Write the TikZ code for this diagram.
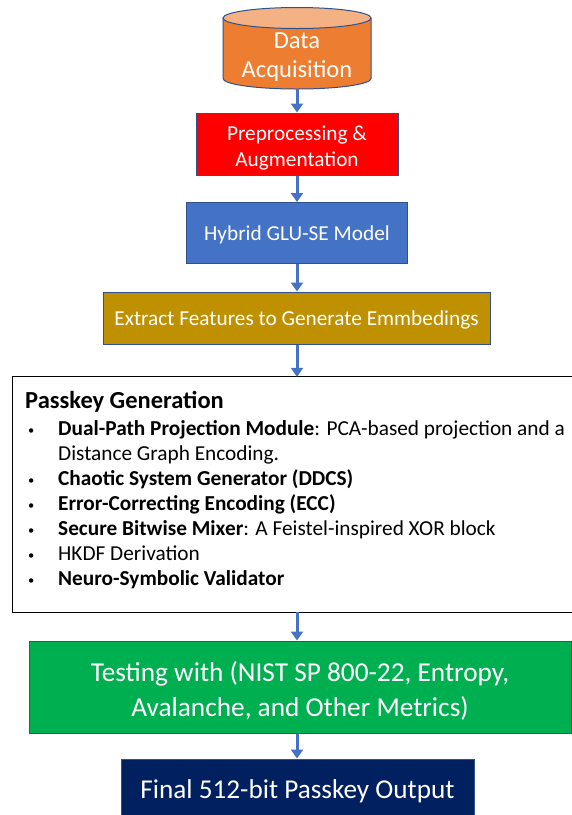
\documentclass[tikz,border=0pt]{standalone}
\usepackage{fontspec}
\setmainfont{Carlito}
\usetikzlibrary{arrows.meta}
\definecolor{bord}{HTML}{2F528F}
\definecolor{cylbody}{HTML}{ED7D31}
\definecolor{cyltop}{HTML}{F4B183}
\definecolor{redbox}{HTML}{FF0000}
\definecolor{bluebox}{HTML}{4472C4}
\definecolor{goldbox}{HTML}{BF9000}
\definecolor{greenbox}{HTML}{00B050}
\definecolor{navybox}{HTML}{002060}
\definecolor{arrowc}{HTML}{4472C4}
\begin{document}
\begin{tikzpicture}[x=1pt,y=-1pt,
  flowbox/.style={draw=bord, line width=1pt, text=white, align=center, inner sep=0pt},
  boxtext/.style={text=white, align=center, inner sep=0pt},
  flowarrow/.style={draw=arrowc, line width=3pt, -{Triangle[width=12pt,length=9pt]}},
  itemtext/.style={anchor=base west, inner sep=0pt, font=\fontsize{21.3}{25}\selectfont},
  bulletmark/.style={anchor=base west, inner sep=0pt, font=\fontsize{12.5}{25}\selectfont}]
\useasboundingbox (0,0) rectangle (572,815);
\fill[white] (0,0) rectangle (572,815);

% cylinder
\filldraw[fill=cylbody, draw=bord, line width=1pt] (223,18) -- (223,78.5)
  arc[start angle=180, end angle=360, x radius=74pt, y radius=10.5pt] -- (371,18);
\filldraw[fill=cyltop, draw=bord, line width=1pt] (297,18) ellipse[x radius=74pt, y radius=10.5pt];
\node[boxtext, font=\fontsize{24.5}{29}\selectfont] (data) at (297,57) {Data\\Acquisition};
\coordinate (dbot) at (297,89);

\node[flowbox, fill=redbox, minimum width=202pt, minimum height=62pt] (prep) at (297,144) {};
\node[boxtext, font=\fontsize{21.3}{26}\selectfont] (preptext) at (297,147.5) {Preprocessing \&\\Augmentation};
\node[flowbox, fill=bluebox, minimum width=221pt, minimum height=61pt] (hyb) at (297,233) {};
\node[boxtext, anchor=base, font=\fontsize{21.3}{25}\selectfont] (hybtext) at (297,240) {Hybrid GLU-SE Model};
\node[flowbox, fill=goldbox, minimum width=387pt, minimum height=52pt] (gold) at (296.5,318) {};
\node[boxtext, anchor=base, font=\fontsize{21.3}{25}\selectfont] (goldtext) at (296.5,325.5) {Extract Features to Generate Emmbedings};

% passkey box (its right side runs off the picture)
\node[minimum width=574pt, minimum height=235pt, inner sep=0pt] (pk) at (300,494.5) {};
\draw[black, line width=1.2pt] (pk.north east) -- (pk.north west) -- (pk.south west) -- (pk.south east);
\node[anchor=base west, inner sep=0pt, font=\fontsize{24.5}{29}\selectfont\bfseries] (title) at (25,408) {Passkey Generation};
\node[bulletmark] (b1) at (28,434) {\textbullet};
\node[itemtext] (l1) at (58,435) {\textbf{Dual-Path Projection Module}: PCA-based projection and a};
\node[itemtext] (l1b) at (58,460) {Distance Graph Encoding.};
\node[bulletmark] (b2) at (28,484) {\textbullet};
\node[itemtext] (l2) at (58,485) {\textbf{Chaotic System Generator (DDCS)}};
\node[bulletmark] (b3) at (28,509) {\textbullet};
\node[itemtext] (l3) at (58,510) {\textbf{Error-Correcting Encoding (ECC)}};
\node[bulletmark] (b4) at (28,534) {\textbullet};
\node[itemtext] (l4) at (58,535) {\textbf{Secure Bitwise Mixer}: A Feistel-inspired XOR block};
\node[bulletmark] (b5) at (28,559) {\textbullet};
\node[itemtext] (l5) at (58,560) {HKDF Derivation};
\node[bulletmark] (b6) at (28,584) {\textbullet};
\node[itemtext] (l6) at (58,585) {\textbf{Neuro-Symbolic Validator}};

\node[flowbox, fill=greenbox, minimum width=542pt, minimum height=92pt] (test) at (300,687) {};
\node[boxtext, font=\fontsize{27.3}{35}\selectfont] (testtext) at (300,690.5) {Testing with (NIST SP 800-22, Entropy,\\Avalanche, and Other Metrics)};
\node[flowbox, fill=navybox, minimum width=353pt, minimum height=62pt] (final) at (297.5,790) {};
\node[boxtext, anchor=base, font=\fontsize{27.2}{32}\selectfont] (finaltext) at (297.5,798) {Final 512-bit Passkey Output};

\coordinate (axis) at (297,0);
\draw[flowarrow] (dbot) -- (prep.north -| axis);
\draw[flowarrow] (prep.south -| axis) -- (hyb.north -| axis);
\draw[flowarrow] (hyb.south -| axis) -- (gold.north -| axis);
\draw[flowarrow] (gold.south -| axis) -- (pk.north -| axis);
\draw[flowarrow] (pk.south -| axis) -- (test.north -| axis);
\draw[flowarrow] (test.south -| axis) -- (final.north -| axis);
\end{tikzpicture}
\end{document}
